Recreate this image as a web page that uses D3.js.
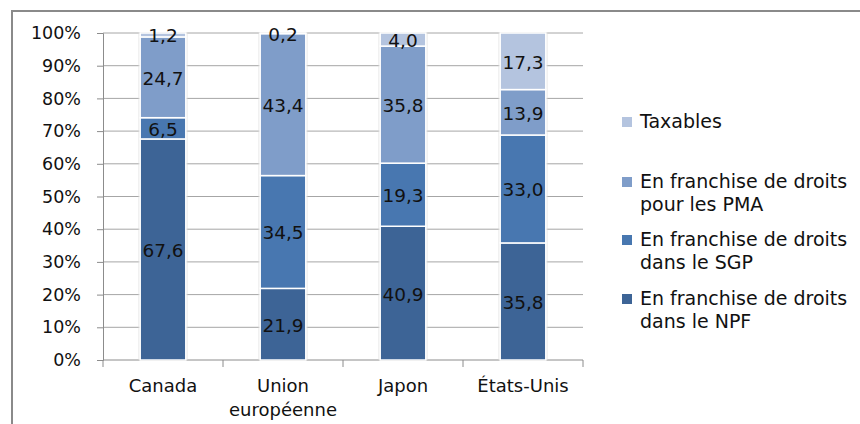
<!DOCTYPE html>
<html><head><meta charset="utf-8">
<script src="https://cdn.jsdelivr.net/npm/d3@7"></script>
<style>body{margin:0;background:#fff}svg{display:block}text{font-family:"DejaVu Sans",Verdana,sans-serif;fill:#111}</style>
</head><body>
<svg id="c" width="860" height="424"></svg>
<script>
const categories = [["Canada"], ["Union", "européenne"], ["Japon"], ["États-Unis"]];
const seriesNames = ["En franchise de droits dans le NPF", "En franchise de droits dans le SGP", "En franchise de droits pour les PMA", "Taxables"];
const npf = [67.6, 21.9, 40.9, 35.8];
const sgp = [6.5, 34.5, 19.3, 33.0];
const pma = [24.7, 43.4, 35.8, 13.9];
const taxables = [1.2, 0.2, 4.0, 17.3];
const yTicks = [0, 10, 20, 30, 40, 50, 60, 70, 80, 90, 100];
const legendItems = [["Taxables"], ["En franchise de droits", "pour les PMA"], ["En franchise de droits", "dans le SGP"], ["En franchise de droits", "dans le NPF"]];
const colors = ["#3d6496", "#4877b0", "#7f9dc9", "#b4c4df"];
const legendColors = ["#b4c4df", "#7f9dc9", "#4877b0", "#3d6496"];

const svg = d3.select("#c");
svg.append("rect").attr("x", 12).attr("y", 11).attr("width", 900).attr("height", 500)
  .attr("fill", "none").attr("stroke", "#8a8a8a").attr("stroke-width", 2);

const x = d3.scaleBand().domain(d3.range(categories.length)).range([103, 583]).paddingInner(0.62).paddingOuter(0.31);
const y = d3.scaleLinear().domain([0, 100]).range([360, 33]);

// gridlines
svg.append("g").selectAll("line").data(yTicks.slice(1)).join("line")
  .attr("x1", 103).attr("x2", 583).attr("y1", d => y(d)).attr("y2", d => y(d))
  .attr("stroke", "#a6a6a6").attr("stroke-width", 1);

// y axis
const yAxis = svg.append("g").attr("transform", "translate(103,0)")
  .call(d3.axisLeft(y).tickValues(yTicks).tickFormat(d => d + "%").tickSize(6).tickPadding(16));
yAxis.select(".domain").attr("stroke", "#8c8c8c");
yAxis.selectAll(".tick line").attr("stroke", "#8c8c8c");
yAxis.selectAll("text").attr("font-size", 17.5).attr("font-family", "DejaVu Sans").attr("fill", "#111");

// x axis
const xb = d3.scaleLinear().domain([0, categories.length]).range([103, 583]);
const xg = svg.append("g").attr("transform", "translate(0,360)");
xg.append("line").attr("x1", 103).attr("x2", 583).attr("stroke", "#8c8c8c");
xg.selectAll(".tk").data(d3.range(categories.length + 1)).join("line").attr("class", "tk")
  .attr("x1", d => xb(d)).attr("x2", d => xb(d)).attr("y1", 0).attr("y2", 7).attr("stroke", "#8c8c8c");
xg.selectAll("text").data(categories).join("text")
  .attr("text-anchor", "middle").attr("font-size", 18)
  .attr("x", (d, i) => x(i) + x.bandwidth() / 2)
  .each(function (d) {
    d3.select(this).selectAll("tspan").data(d).join("tspan")
      .attr("x", d3.select(this).attr("x")).attr("y", (t, j) => 32 + j * 24).text(t => t);
  });

// stacked bars
const rows = categories.map((c, i) => ({ i, npf: npf[i], sgp: sgp[i], pma: pma[i], tax: taxables[i] }));
const stack = d3.stack().keys(["npf", "sgp", "pma", "tax"])(rows);
const fmt = v => v.toFixed(1).replace(".", ",");

// shadow
svg.append("g").selectAll("rect").data(rows).join("rect")
  .attr("x", d => x(d.i) - 2).attr("y", y(100) - 1).attr("width", x.bandwidth() + 4).attr("height", y(0) - y(100) + 1)
  .attr("fill", "#dedede").attr("opacity", 0.5);

stack.forEach((s, k) => {
  const g = svg.append("g");
  g.selectAll("rect").data(s).join("rect")
    .attr("x", (d, i) => x(i)).attr("width", x.bandwidth())
    .attr("y", d => y(d[1])).attr("height", d => y(d[0]) - y(d[1]))
    .attr("fill", colors[k]).attr("stroke", "#fff").attr("stroke-width", 1.5);
});
stack.forEach((s, k) => {
  svg.append("g").selectAll("text").data(s).join("text")
    .attr("x", (d, i) => x(i) + x.bandwidth() / 2)
    .attr("y", d => (y(d[0]) + y(d[1])) / 2 + 1)
    .attr("dy", "0.35em").attr("text-anchor", "middle").attr("font-size", 18.5)
    .text(d => fmt(d[1] - d[0]));
});

// legend
const legY = [122, 182, 240, 299];
const lg = svg.append("g");
legendItems.forEach((lines, i) => {
  lg.append("rect").attr("x", 622).attr("y", legY[i] - 5).attr("width", 10).attr("height", 10).attr("fill", legendColors[i]);
  const t = lg.append("text").attr("font-size", 19).attr("x", 640);
  lines.forEach((l, j) => t.append("tspan").attr("x", 640).attr("y", legY[i] + 6 + j * 23).text(l));
});
</script>
</body></html>
